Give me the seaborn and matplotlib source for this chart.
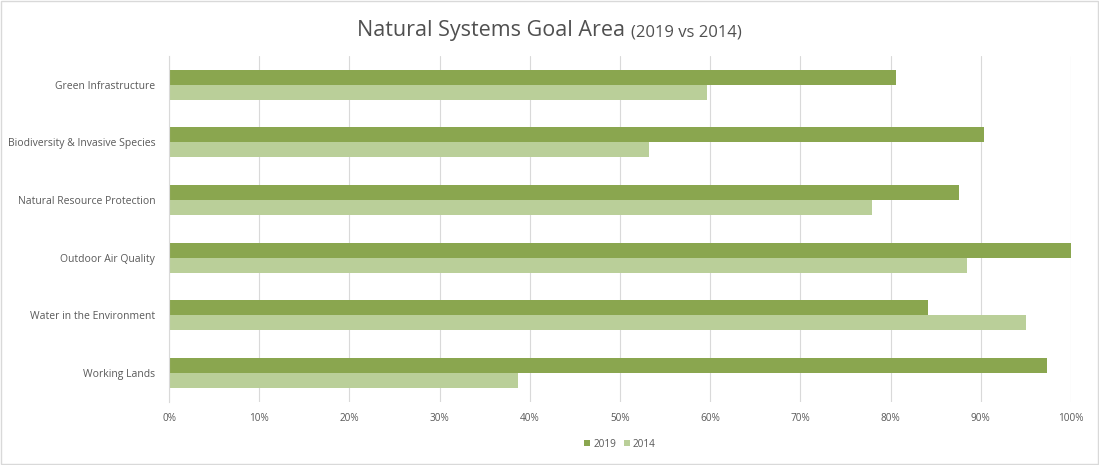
import matplotlib

matplotlib.use("Agg")
import matplotlib.pyplot as plt
import pandas as pd
import seaborn as sns
from matplotlib.ticker import PercentFormatter, MultipleLocator

# values (percent)
categories = [
    "Green Infrastructure",
    "Biodiversity & Invasive Species",
    "Natural Resource Protection",
    "Outdoor Air Quality",
    "Water in the Environment",
    "Working Lands",
]
years = ["2019", "2014"]
values_2019 = [80.6, 90.4, 87.6, 100.0, 84.1, 97.3]
values_2014 = [59.6, 53.2, 77.9, 88.5, 95.0, 38.7]

dark_green = "#8AA64F"
light_green = "#BACF99"
text_grey = "#595959"

df = pd.DataFrame(
    {
        "category": categories * 2,
        "year": ["2019"] * len(categories) + ["2014"] * len(categories),
        "value": values_2019 + values_2014,
    }
)

sns.set_theme(style="white")
plt.rcParams["font.family"] = ["Open Sans", "DejaVu Sans"]

fig = plt.figure(figsize=(10.99, 4.65), dpi=100)
ax = fig.add_axes([0.1538, 0.1355, 0.8207, 0.7441])

sns.barplot(
    data=df,
    y="category",
    x="value",
    hue="year",
    hue_order=years,
    order=categories,
    palette=[dark_green, light_green],
    orient="h",
    width=0.52,
    saturation=1,
    ax=ax,
    legend=True,
)
for patch in ax.patches:
    patch.set_linewidth(0)

ax.set_xlim(0, 100)
ax.set_ylim(len(categories) - 0.5, -0.5)
ax.xaxis.set_major_locator(MultipleLocator(10))
ax.xaxis.set_major_formatter(PercentFormatter(decimals=0))
ax.grid(axis="x", color="#D9D9D9", linewidth=0.8)
ax.set_axisbelow(True)
for side in ["top", "right", "bottom"]:
    ax.spines[side].set_visible(False)
ax.spines["left"].set_color("#D9D9D9")
ax.spines["left"].set_linewidth(0.8)
ax.set_xlabel("")
ax.set_ylabel("")
ax.tick_params(axis="x", length=0, labelsize=7.2, labelcolor=text_grey, pad=8)
ax.tick_params(axis="y", length=0, labelsize=7.5, labelcolor=text_grey, pad=10)

handles, labels = ax.get_legend_handles_labels()
ax.legend(
    handles,
    labels,
    loc="center",
    bbox_to_anchor=(0.5, -0.122),
    ncol=2,
    frameon=False,
    fontsize=7.2,
    labelcolor=text_grey,
    handlelength=0.55,
    handleheight=0.55,
    handletextpad=0.35,
    columnspacing=0.8,
)

# two-part title with different sizes
renderer = fig.canvas.get_renderer()
main = fig.text(0, 0.935, "Natural Systems Goal Area ", fontsize=15.5, color="#505050",
                va="center", ha="left")
sub = fig.text(0, 0.931, "(2019 vs 2014)", fontsize=12, color="#505050",
               va="center", ha="left")
w_main = main.get_window_extent(renderer).width
w_sub = sub.get_window_extent(renderer).width
start = (fig.bbox.width - w_main - w_sub) / 2 / fig.bbox.width
main.set_x(start)
sub.set_x(start + w_main / fig.bbox.width)

# light chart border
fig.patches.append(
    plt.Rectangle((0.001, 0.002), 0.998, 0.996, transform=fig.transFigure,
                  fill=False, edgecolor="#D9D9D9", linewidth=1)
)

fig.savefig("out.png", dpi=100)
